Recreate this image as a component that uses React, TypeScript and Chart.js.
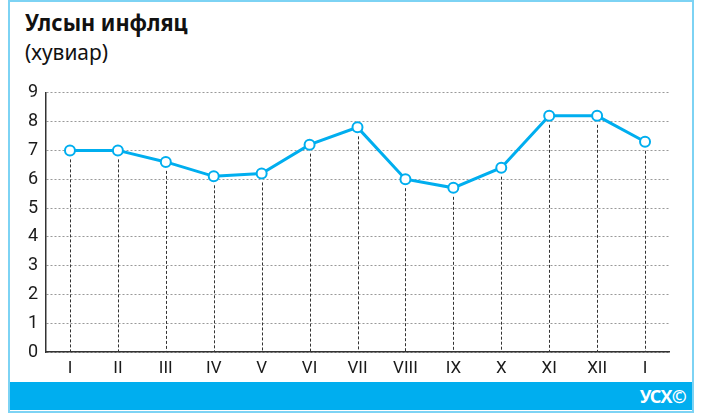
import React, { useEffect, useRef } from "react";
import { Chart, registerables } from "chart.js";

Chart.register(...registerables);

const categories = ["I", "II", "III", "IV", "V", "VI", "VII", "VIII", "IX", "X", "XI", "XII", "I"];
const inflation = [7.0, 7.0, 6.6, 6.1, 6.2, 7.2, 7.8, 6.0, 5.7, 6.4, 8.2, 8.2, 7.3];
const yMin = 0;
const yMax = 9;
const titleText = "Улсын инфляц";
const subtitleText = "(хувиар)";
const sourceText = "УСХ©";

const BLUE = "#00AEEF";
const FONT = "'Noto Sans', 'Open Sans', sans-serif";
const TICK_FONT = "'Liberation Sans Narrow', Roboto, sans-serif";

const dropLines = {
  id: "dropLines",
  beforeDatasetsDraw(chart: any) {
    const { ctx, scales } = chart;
    const xs = scales.x;
    const ys = scales.y;
    ctx.save();
    ctx.strokeStyle = "#333";
    ctx.lineWidth = 1;
    ctx.setLineDash([3, 2]);
    inflation.forEach((v, i) => {
      const x = Math.round(xs.getPixelForValue(i)) + 0.5;
      const y = ys.getPixelForValue(v);
      ctx.beginPath();
      ctx.moveTo(x, y + 9);
      ctx.lineTo(x, ys.bottom);
      ctx.stroke();
    });
    ctx.restore();
  },
};

export default function App() {
  const ref = useRef<HTMLCanvasElement>(null);
  useEffect(() => {
    if (!ref.current) return;
    const chart = new Chart(ref.current, {
      type: "line",
      data: {
        labels: categories,
        datasets: [
          {
            data: inflation,
            borderColor: BLUE,
            borderWidth: 3,
            pointRadius: 5,
            pointBorderWidth: 2,
            pointBackgroundColor: "#fff",
            pointBorderColor: BLUE,
            tension: 0,
          },
        ],
      },
      options: {
        animation: false,
        responsive: false,
        maintainAspectRatio: false,
        layout: { padding: { top: 5, right: 23, left: 0, bottom: 0 } },
        plugins: { legend: { display: false }, tooltip: { enabled: false } },
        scales: {
          x: {
            type: "category",
            offset: true,
            grid: { display: false, drawTicks: false },
            border: { display: true, color: "#333", width: 1.5 },
            ticks: {
              color: "#1a1a1a",
              font: { family: TICK_FONT, size: 17 },
              padding: 7,
              autoSkip: false,
              maxRotation: 0,
            },
            afterFit: (s: any) => {
              s.height = 30;
            },
          },
          y: {
            min: yMin,
            max: yMax,
            grid: {
              color: "#999",
              drawTicks: false,
            },
            border: { display: true, color: "#333", width: 1.5, dash: [2, 2] },
            ticks: {
              stepSize: 1,
              color: "#1a1a1a",
              font: { family: TICK_FONT, size: 18 },
              padding: 8,
            },
            afterFit: (s: any) => {
              s.width = 36;
            },
          },
        },
      },
      plugins: [dropLines],
    } as any);
    return () => chart.destroy();
  }, []);

  return (
    <div style={{ position: "absolute", left: 0, top: 0, width: 708, height: 414, background: "#fff", overflow: "hidden" }}>
      <div
        style={{
          position: "absolute",
          left: 8,
          top: 0,
          width: 686,
          height: 413,
          border: "2px solid #7dd3f4",
          boxSizing: "border-box",
        }}
      />
      <div
        style={{
          position: "absolute",
          left: 25,
          top: 6,
          fontFamily: FONT,
          fontWeight: 700,
          fontSize: 24,
          color: "#111",
          lineHeight: "32px",
          whiteSpace: "nowrap",
          transform: "scaleX(0.9)",
          transformOrigin: "left center",
        }}
      >
        {titleText}
      </div>
      <div
        style={{
          position: "absolute",
          left: 25,
          top: 36,
          fontFamily: FONT,
          fontSize: 22,
          color: "#111",
          lineHeight: "30px",
          whiteSpace: "nowrap",
          transform: "scaleX(0.95)",
          transformOrigin: "left center",
        }}
      >
        {subtitleText}
      </div>
      <canvas
        ref={ref}
        width={682}
        height={308}
        style={{ position: "absolute", left: 10, top: 74, width: 682, height: 308 }}
      />
      <div
        style={{
          position: "absolute",
          left: 10,
          top: 382,
          width: 682,
          height: 28,
          background: BLUE,
        }}
      >
        <div
          style={{
            position: "absolute",
            right: 6,
            top: 0,
            lineHeight: "28px",
            fontFamily: FONT,
            fontWeight: 700,
            fontSize: 18,
            color: "#fff",
            letterSpacing: "-0.8px",
          }}
        >
          {sourceText}
        </div>
      </div>
    </div>
  );
}
